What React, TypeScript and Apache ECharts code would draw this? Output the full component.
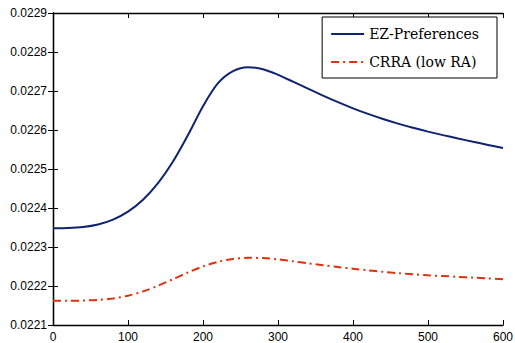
import React, { useEffect, useRef } from "react";
import * as echarts from "echarts";

const xValues = [0, 20, 40, 60, 80, 100, 120, 140, 160, 180, 200, 220, 240, 260, 280, 300, 320, 340, 360, 380, 400, 420, 440, 460, 480, 500, 520, 540, 560, 580, 600];
const ezValues = [0.022348, 0.0223485, 0.022351, 0.0223575, 0.02237, 0.0223905, 0.022421, 0.0224635, 0.022519, 0.022587, 0.022661, 0.02272, 0.022751, 0.022761, 0.022756, 0.0227415, 0.022724, 0.022706, 0.0226883, 0.0226714, 0.0226556, 0.0226412, 0.0226282, 0.0226164, 0.0226057, 0.0225959, 0.0225868, 0.0225782, 0.0225699, 0.0225618, 0.0225538];
const crraValues = [0.022162, 0.0221621, 0.0221627, 0.0221644, 0.0221681, 0.0221751, 0.0221861, 0.0222006, 0.0222174, 0.0222347, 0.0222502, 0.022262, 0.0222693, 0.0222723, 0.0222716, 0.0222682, 0.0222634, 0.0222582, 0.0222532, 0.0222486, 0.0222443, 0.0222402, 0.0222364, 0.022233, 0.02223, 0.0222276, 0.0222255, 0.0222235, 0.0222215, 0.0222195, 0.0222175];
const seriesNames = ["EZ-Preferences", "CRRA (low RA)"];

export default function App() {
  const ref = useRef<HTMLDivElement>(null);
  useEffect(() => {
    if (!ref.current) return;
    const chart = echarts.init(ref.current, null, { renderer: "svg" });
    const axisLine = { show: true, lineStyle: { color: "#000", width: 1.3 } };
    const tick = { show: true, inside: true, length: 5, lineStyle: { color: "#000", width: 1 } };
    const label = { color: "#000", fontSize: 12, fontFamily: "Liberation Sans, Arial, sans-serif" };
    chart.setOption({
      animation: false,
      backgroundColor: "#fff",
      grid: { left: 53, right: 12, top: 13, bottom: 18, containLabel: false, outerBoundsMode: "none" },
      legend: {
        data: seriesNames,
        orient: "vertical",
        right: 18,
        top: 17,
        itemWidth: 33,
        itemHeight: 14,
        itemGap: 14,
        padding: [10, 18, 9, 8],
        borderColor: "#000",
        borderWidth: 1,
        backgroundColor: "#fff",
        borderRadius: 0,
        itemStyle: { opacity: 0 },
        textStyle: { color: "#000", fontSize: 14, fontFamily: "DejaVu Serif", padding: [0, 0, 0, 0] },
      },
      xAxis: [
        {
          type: "value", min: 0, max: 600, interval: 100, position: "bottom",
          axisLine, axisTick: tick, splitLine: { show: false },
          axisLabel: { ...label, margin: 6 },
        },
        {
          type: "value", min: 0, max: 600, interval: 100, position: "top",
          axisLine, axisTick: tick, splitLine: { show: false }, axisLabel: { show: false },
        },
      ],
      yAxis: [
        {
          type: "value", min: 0.0221, max: 0.0229, interval: 0.0001, position: "left",
          axisLine, axisTick: tick, splitLine: { show: false },
          axisLabel: { ...label, margin: 6, formatter: (v: number) => v.toFixed(4) },
        },
        {
          type: "value", min: 0.0221, max: 0.0229, interval: 0.0001, position: "right",
          axisLine, axisTick: tick, splitLine: { show: false }, axisLabel: { show: false },
        },
      ],
      series: [
        {
          name: seriesNames[0], type: "line", xAxisIndex: 0, yAxisIndex: 0,
          data: xValues.map((x, i) => [x, ezValues[i]]),
          smooth: 0.3, symbol: "none",
          lineStyle: { color: "#0f2370", width: 2 },
          itemStyle: { color: "#0f2370" },
        },
        {
          name: seriesNames[1], type: "line", xAxisIndex: 0, yAxisIndex: 0,
          data: xValues.map((x, i) => [x, crraValues[i]]),
          smooth: 0.3, symbol: "none",
          lineStyle: { color: "#e0300c", width: 2, type: [8, 4, 2, 4] },
          itemStyle: { color: "#e0300c" },
        },
      ],
    });
    return () => chart.dispose();
  }, []);
  return <div ref={ref} style={{ width: 515, height: 343, position: "fixed", left: 0, top: 0 }} />;
}
